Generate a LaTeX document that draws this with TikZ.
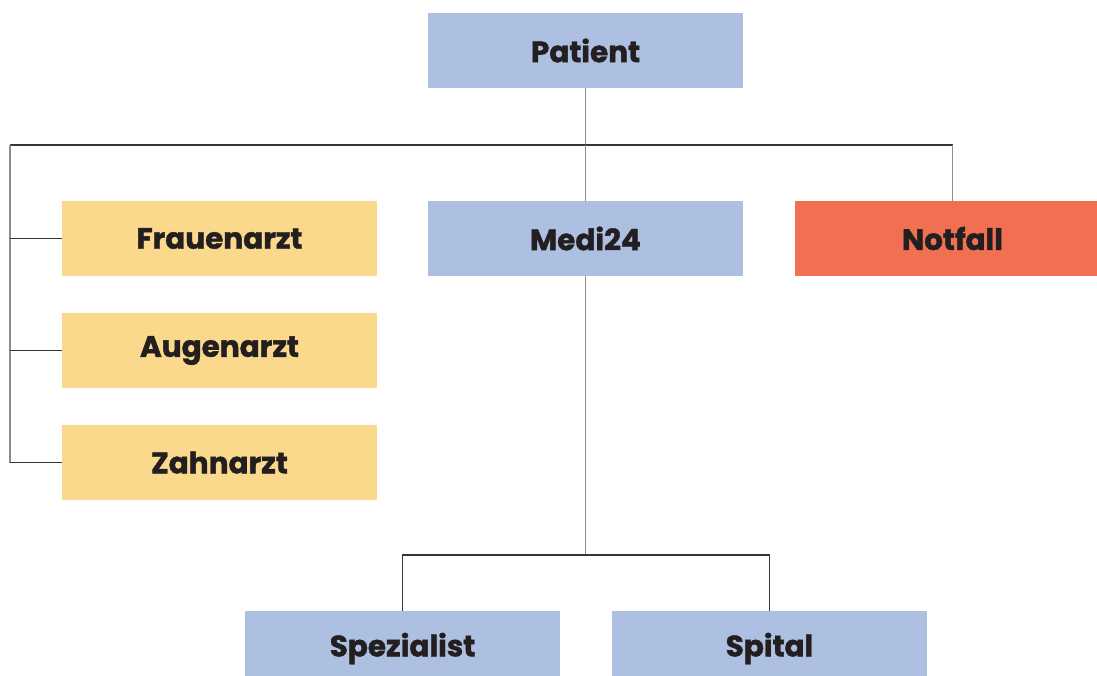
\documentclass[tikz,border=0pt]{standalone}
\usepackage{fontspec}
\setmainfont{Poppins}[BoldFeatures={FakeBold=1.4}]
\usepackage{tikz}
\usetikzlibrary{arrows.meta}

\definecolor{boxblue}{HTML}{AEC0E2}
\definecolor{boxyellow}{HTML}{FAD98C}
\definecolor{boxred}{HTML}{F27052}
\definecolor{inkdark}{HTML}{231F20}

\tikzset{
    box/.style={minimum width=315pt, minimum height=75pt, inner sep=0pt,
        text=inkdark, font=\fontsize{29.5}{31}\selectfont\bfseries},
    trunk/.style={draw=gray!90, line width=1.3pt},
    twig/.style={draw=inkdark!90, line width=1.1pt}
}

\begin{document}
\begin{tikzpicture}[x=1pt, y=-1pt]
\begin{scope}
    \useasboundingbox (0,0) rectangle (1097,675);
    \clip (0,0) rectangle (1097,675);

    \node[box, fill=boxblue] (pat) at (585.5,50.5) {Patient};
    \node[box, fill=boxyellow] (frau) at (219.5,238.5) {Frauenarzt};
    \node[box, fill=boxblue] (medi) at (585.5,238.5) {Medi24};
    \node[box, fill=boxred] (notf) at (952.5,238.5) {Notfall};
    \node[box, fill=boxyellow] (auge) at (219.5,350.5) {Augenarzt};
    \node[box, fill=boxyellow] (zahn) at (219.5,462.5) {Zahnarzt};
    \node[box, fill=boxblue] (spez) at (402.5,648.5) {Spezialist};
    \node[box, fill=boxblue] (spit) at (769.5,648.5) {Spital};

    \coordinate (top) at (585.5,145);
    \coordinate (tl) at (10,145);
    \coordinate (tr) at (952.5,145);
    \coordinate (bot) at (585.5,555);

    \path [trunk] (pat) edge (top);
    \path [twig] (tl) edge (tr);
    \path [trunk] (top) edge (medi);
    \path [trunk] (tr) edge (notf);
    \path [trunk] (tl) edge (tl |- zahn);
    \path [twig] (tl |- frau) edge (frau);
    \path [twig] (tl |- auge) edge (auge);
    \path [twig] (tl |- zahn) edge (zahn);
    \path [trunk] (medi) edge (bot);
    \draw [twig] (spez) |- (bot) -| (spit);
\end{scope}
\end{tikzpicture}
\end{document}
